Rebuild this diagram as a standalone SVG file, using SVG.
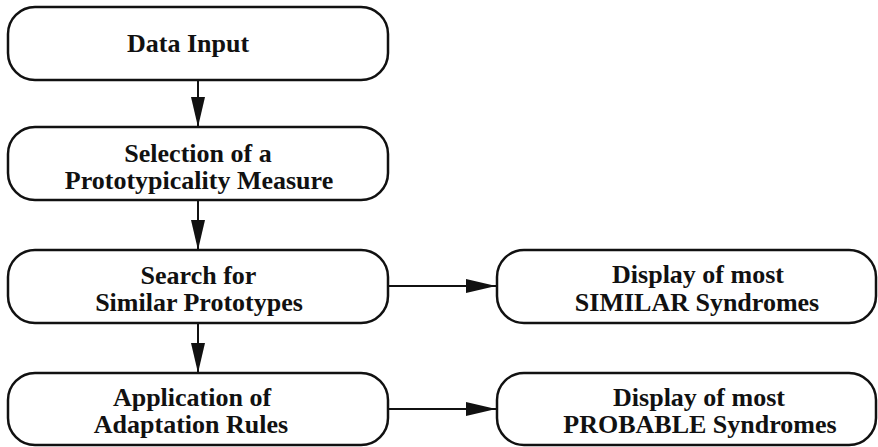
<svg xmlns="http://www.w3.org/2000/svg" width="878" height="447" viewBox="0 0 878 447">
<defs>
<style>
.box{fill:#fff;stroke:#111;stroke-width:2.5}
.c{stroke:#111;stroke-width:2;fill:none}
</style>
<marker id="ah" markerUnits="userSpaceOnUse" markerWidth="31" markerHeight="15" refX="30" refY="7" orient="auto">
<path d="M0,0 L30,7 L0,14 Z" fill="#111"/>
</marker>
</defs>
<rect width="878" height="447" fill="#fff"/>
<g id="connectors">
<line class="c" x1="198" y1="80" x2="198" y2="127" marker-end="url(#ah)"/>
<line class="c" x1="198" y1="200" x2="198" y2="250" marker-end="url(#ah)"/>
<line class="c" x1="198" y1="323" x2="198" y2="373" marker-end="url(#ah)"/>
<line class="c" x1="388" y1="286" x2="496" y2="286" marker-end="url(#ah)"/>
<line class="c" x1="388" y1="409" x2="496" y2="409" marker-end="url(#ah)"/>
</g>
<g font-family="Liberation Serif" font-size="26" font-weight="bold" fill="#111" text-anchor="middle">
<g id="data-input">
<rect class="box" x="8" y="7" width="380" height="73" rx="27" ry="27"/>
<text x="188" y="52">Data Input</text>
</g>
<g id="selection">
<rect class="box" x="8" y="127" width="380" height="73" rx="27" ry="27"/>
<text x="198" y="162">Selection of a</text>
<text x="199" y="189">Prototypicality Measure</text>
</g>
<g id="search">
<rect class="box" x="8" y="250" width="380" height="73" rx="27" ry="27"/>
<text x="198.5" y="284">Search for</text>
<text x="199" y="311">Similar Prototypes</text>
</g>
<g id="application">
<rect class="box" x="8" y="373" width="380" height="72" rx="27" ry="27"/>
<text x="192" y="406">Application of</text>
<text x="191" y="433">Adaptation Rules</text>
</g>
<g id="similar">
<rect class="box" x="497" y="250" width="379" height="73" rx="27" ry="27"/>
<text x="698" y="283">Display of most</text>
<text x="697" y="311">SIMILAR Syndromes</text>
</g>
<g id="probable">
<rect class="box" x="497" y="373" width="379" height="72" rx="27" ry="27"/>
<text x="699" y="406">Display of most</text>
<text x="700" y="433">PROBABLE Syndromes</text>
</g>
</g>
</svg>
